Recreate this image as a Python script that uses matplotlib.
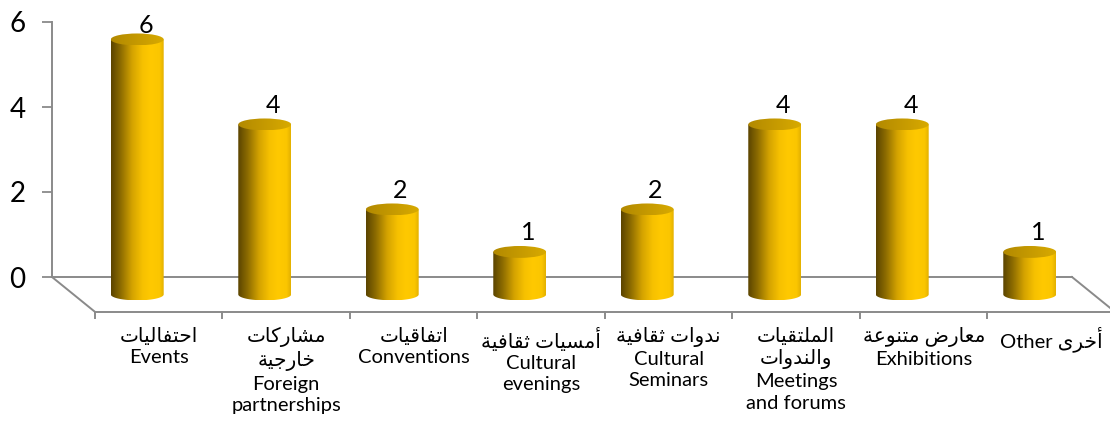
import re
import numpy as np
import matplotlib.pyplot as plt
from matplotlib.patches import PathPatch, Ellipse
from matplotlib.path import Path
from matplotlib.colors import LinearSegmentedColormap

# Data
values = [6, 4, 2, 1, 2, 4, 4, 1]
labels = [
    'احتفاليات\nEvents',
    'مشاركات\nخارجية\nForeign\npartnerships',
    'اتفاقيات\nConventions',
    'أمسيات ثقافية\nCultural\nevenings',
    'ندوات ثقافية\nCultural\nSeminars',
    'الملتقيات\nوالندوات\nMeetings\nand forums',
    'معارض متنوعة\nExhibitions',
    'Other أخرى',
]
yticks = [0, 2, 4, 6]

# Arabic shaping (matplotlib does not join letters itself)
# isolated, final, initial, medial
FORMS = {
    'ا': ('\uFE8D', '\uFE8E', None, None),
    'أ': ('\uFE83', '\uFE84', None, None),
    'ة': ('\uFE93', '\uFE94', None, None),
    'ت': ('\uFE95', '\uFE96', '\uFE97', '\uFE98'),
    'ث': ('\uFE99', '\uFE9A', '\uFE9B', '\uFE9C'),
    'ج': ('\uFE9D', '\uFE9E', '\uFE9F', '\uFEA0'),
    'ح': ('\uFEA1', '\uFEA2', '\uFEA3', '\uFEA4'),
    'خ': ('\uFEA5', '\uFEA6', '\uFEA7', '\uFEA8'),
    'د': ('\uFEA9', '\uFEAA', None, None),
    'ر': ('\uFEAD', '\uFEAE', None, None),
    'س': ('\uFEB1', '\uFEB2', '\uFEB3', '\uFEB4'),
    'ش': ('\uFEB5', '\uFEB6', '\uFEB7', '\uFEB8'),
    'ض': ('\uFEBD', '\uFEBE', '\uFEBF', '\uFEC0'),
    'ع': ('\uFEC9', '\uFECA', '\uFECB', '\uFECC'),
    'ف': ('\uFED1', '\uFED2', '\uFED3', '\uFED4'),
    'ق': ('\uFED5', '\uFED6', '\uFED7', '\uFED8'),
    'ك': ('\uFED9', '\uFEDA', '\uFEDB', '\uFEDC'),
    'ل': ('\uFEDD', '\uFEDE', '\uFEDF', '\uFEE0'),
    'م': ('\uFEE1', '\uFEE2', '\uFEE3', '\uFEE4'),
    'ن': ('\uFEE5', '\uFEE6', '\uFEE7', '\uFEE8'),
    'و': ('\uFEED', '\uFEEE', None, None),
    'ى': ('\uFEEF', '\uFEF0', None, None),
    'ي': ('\uFEF1', '\uFEF2', '\uFEF3', '\uFEF4'),
}
AR_RUN = r'[\u0600-\u06FF]+(?: [\u0600-\u06FF]+)*'


def shape(s):
    out = []
    for i, c in enumerate(s):
        f = FORMS.get(c)
        if f is None:
            out.append(c)
            continue
        before = i > 0 and s[i - 1] in FORMS and FORMS[s[i - 1]][2] is not None
        after = i + 1 < len(s) and s[i + 1] in FORMS and f[2] is not None
        if before and after:
            out.append(f[3])
        elif before:
            out.append(f[1])
        elif after:
            out.append(f[2])
        else:
            out.append(f[0])
    return ''.join(out)


def visual(text):
    return '\n'.join(re.sub(AR_RUN, lambda m: shape(m.group(0))[::-1], ln)
                     for ln in text.split('\n'))


plt.rcParams['font.family'] = ['Lato', 'DejaVu Sans']

fig = plt.figure(figsize=(11.1, 4.32), dpi=100)
ax = fig.add_axes([52 / 1110, 155 / 432, 1020 / 1110, 255 / 432])

GRAY = '#8a8a8a'
W = 0.415          # cylinder width (category units)
EH = 0.28          # ellipse height (value units)
DX, DY = 0.337, 0.82   # floor depth offset

body_cmap = LinearSegmentedColormap.from_list('body', [
    (0, '#5a4400'), (0.18, '#8c6b00'), (0.4, '#d4a300'), (0.6, '#f7c100'),
    (0.75, '#ffc900'), (0.92, '#fbc600'), (1, '#e3b000')])
top_cmap = LinearSegmentedColormap.from_list('top', ['#b28900', '#d8aa00'])
grad = np.linspace(0, 1, 256).reshape(1, -1)

n = len(values)
for i, v in enumerate(values):
    cx = i + DX / 2
    y0 = -DY / 2
    y1 = y0 + v
    t = np.linspace(np.pi, 2 * np.pi, 50)
    arc = np.column_stack([cx + W / 2 * np.cos(t), y0 + EH / 2 * np.sin(t)])
    verts = [(cx - W / 2, y1)] + [tuple(p) for p in arc] + [(cx + W / 2, y1), (cx - W / 2, y1)]
    body = PathPatch(Path(verts, closed=True), facecolor='none', edgecolor='none', transform=ax.transData)
    ax.add_patch(body)
    im = ax.imshow(grad, extent=[cx - W / 2, cx + W / 2, y0 - EH / 2, y1], aspect='auto',
                   cmap=body_cmap, zorder=3, interpolation='bilinear')
    im.set_clip_path(body)
    im.set_clip_box(fig.bbox)

    top = Ellipse((cx, y1), W, EH, facecolor='none', edgecolor='none', transform=ax.transData)
    ax.add_patch(top)
    im2 = ax.imshow(grad, extent=[cx - W / 2, cx + W / 2, y1 - EH / 2, y1 + EH / 2], aspect='auto',
                    cmap=top_cmap, zorder=4, interpolation='bilinear')
    im2.set_clip_path(top)
    im2.set_clip_box(fig.bbox)

    ax.annotate(str(v), (cx, min(v - 0.13, 5.74)), xytext=(6, 0), textcoords='offset points',
                ha='center', va='baseline', fontsize=18, color='black', zorder=6,
                annotation_clip=False)

# floor outline
ax.plot([-0.5, -0.5 + DX], [0, -DY], color=GRAY, lw=1.4, clip_on=False, zorder=1)
ax.plot([n - 0.5, n - 0.5 + DX], [0, -DY], color=GRAY, lw=1.4, clip_on=False, zorder=1)
ax.plot([-0.5 + DX, n - 0.5 + DX], [-DY, -DY], color=GRAY, lw=1.4, clip_on=False, zorder=1)
for k in range(n + 1):
    ax.plot([k - 0.5 + DX] * 2, [-DY, -DY - 0.15], color=GRAY, lw=1.4, clip_on=False, zorder=1)

for i, lab in enumerate(labels):
    ax.text(i + DX, -1.17, visual(lab), ha='center', va='top', fontsize=14.5,
            linespacing=1.3, color='black')

ax.set_xlim(-0.5, n - 0.5)
ax.set_ylim(0, 6)
ax.set_xticks([])
ax.set_yticks(yticks)
ax.tick_params(axis='y', length=7, width=1.3, color=GRAY, labelsize=20, pad=12)
for s in ['top', 'right']:
    ax.spines[s].set_visible(False)
for s in ['left', 'bottom']:
    ax.spines[s].set_color(GRAY)
    ax.spines[s].set_linewidth(1.4)
    ax.spines[s].set_zorder(1)
ax.patch.set_visible(False)

fig.savefig('out.png', dpi=100)
